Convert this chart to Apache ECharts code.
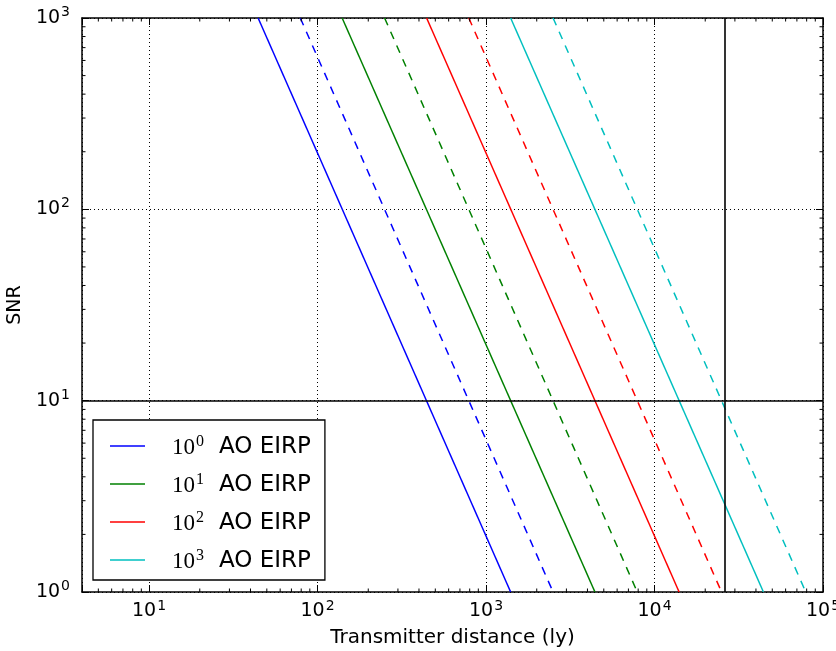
<!DOCTYPE html>
<html><head><meta charset="utf-8">
<script src="https://cdn.jsdelivr.net/npm/echarts@6/dist/echarts.min.js"></script>
<style>html,body{margin:0;padding:0;background:#fff}#c{width:836px;height:651px}</style>
</head><body><div id="c"></div>
<script>
// ---- data ----
const eirpExponents = ['0', '1', '2', '3'];
const legendNames = ['10^0 AO EIRP', '10^1 AO EIRP', '10^2 AO EIRP', '10^3 AO EIRP'];
const lineColors = ['#0000ff', '#008000', '#ff0000', '#00bfbf'];
const snrEnds = [1000, 1];                        // SNR at the two ends of every line
const solidDistances = [[44.4, 1400], [140, 4430], [444, 14000], [1400, 44300]];   // ly at SNR 1000, SNR 1
const dashedDistances = [[79, 2500], [250, 7900], [790, 25000], [2500, 79000]];   // ly at SNR 1000, SNR 1
const refSNR = 10;
const refDistance = 26000;
const xRange = [4, 100000];
const yRange = [1, 1000];
const xMinorTicks = [5, 6, 7, 8, 9, 20, 30, 40, 50, 60, 70, 80, 90, 200, 300, 400, 500, 600, 700, 800, 900,
  2000, 3000, 4000, 5000, 6000, 7000, 8000, 9000, 20000, 30000, 40000, 50000, 60000, 70000, 80000, 90000];
const yMinorTicks = [2, 3, 4, 5, 6, 7, 8, 9, 20, 30, 40, 50, 60, 70, 80, 90, 200, 300, 400, 500, 600, 700, 800, 900];

// ---- chart ----
const chart = echarts.init(document.getElementById('c'), null, {renderer: 'canvas'});
const SANS = 'DejaVu Sans';
const SERIF = 'Liberation Serif';

function powLabel(v) {
  const l = Math.log10(v);
  const e = Math.round(l);
  if (Math.abs(l - e) > 1e-6) return '';
  return '{b|10}{s|' + e + '}';
}
const tickRich = {
  b: {fontFamily: SANS, fontSize: 19, color: '#000', lineHeight: 19, verticalAlign: 'bottom'},
  s: {fontFamily: SANS, fontSize: 14, color: '#000', lineHeight: 14, verticalAlign: 'bottom', padding: [0, 0, 8, 1]}
};
const frameLine = {show: true, onZero: false, lineStyle: {color: '#000', width: 1.5}};
const majorTick = {show: true, inside: true, length: 7, lineStyle: {color: '#000', width: 1}};
const grid = {lineStyle: {color: '#000', width: 1, type: [1, 3]}};

const series = [];
solidDistances.forEach((d, i) => {
  series.push({
    name: legendNames[i], type: 'line', symbol: 'none', clip: true, z: 3,
    data: [[d[0], snrEnds[0]], [d[1], snrEnds[1]]],
    lineStyle: {color: lineColors[i], width: 1.5}, itemStyle: {color: lineColors[i]}
  });
});
dashedDistances.forEach((d, i) => {
  series.push({
    name: legendNames[i] + ' dashed', type: 'line', symbol: 'none', clip: true, z: 3,
    data: [[d[0], snrEnds[0]], [d[1], snrEnds[1]]],
    lineStyle: {color: lineColors[i], width: 1.5, type: [8, 7]}, itemStyle: {color: lineColors[i]}
  });
});
// reference lines
series.push({
  name: 'ref', type: 'line', data: [], symbol: 'none', z: 2,
  markLine: {
    silent: true, symbol: 'none', animation: false, label: {show: false},
    lineStyle: {color: '#000', width: 1.6, type: 'solid'},
    data: [{yAxis: refSNR}, {xAxis: refDistance}]
  }
});
// minor ticks
series.push({
  type: 'custom', silent: true, clip: false, z: 5,
  data: xMinorTicks.map(v => [v, yRange[0]]),
  renderItem: (p, api) => {
    const x = api.value(0);
    const b = api.coord([x, yRange[0]]), t = api.coord([x, yRange[1]]);
    return {type: 'group', children: [
      {type: 'line', shape: {x1: b[0], y1: b[1], x2: b[0], y2: b[1] - 3.5}, style: {stroke: '#000', lineWidth: 1}},
      {type: 'line', shape: {x1: t[0], y1: t[1], x2: t[0], y2: t[1] + 3.5}, style: {stroke: '#000', lineWidth: 1}}
    ]};
  }
});
series.push({
  type: 'custom', silent: true, clip: false, z: 5,
  data: yMinorTicks.map(v => [xRange[0], v]),
  renderItem: (p, api) => {
    const y = api.value(1);
    const l = api.coord([xRange[0], y]), r = api.coord([xRange[1], y]);
    return {type: 'group', children: [
      {type: 'line', shape: {x1: l[0], y1: l[1], x2: l[0] + 3.5, y2: l[1]}, style: {stroke: '#000', lineWidth: 1}},
      {type: 'line', shape: {x1: r[0], y1: r[1], x2: r[0] - 3.5, y2: r[1]}, style: {stroke: '#000', lineWidth: 1}}
    ]};
  }
});

chart.setOption({
  animation: false,
  backgroundColor: '#fff',
  grid: {left: 82, top: 18, right: 13, bottom: 59, containLabel: false, outerBoundsMode: 'none'},
  legend: {
    data: legendNames, orient: 'vertical', left: 93, top: 420,
    padding: [14, 14, 7, 17], itemGap: 13, itemWidth: 35, itemHeight: 1.6, icon: 'rect',
    borderColor: '#000', borderWidth: 1.3, backgroundColor: '#fff', selectedMode: false,
    formatter: name => {
      const i = legendNames.indexOf(name);
      return '{b|10}{s|' + eirpExponents[i] + '}{t|AO EIRP}';
    },
    textStyle: {
      rich: {
        b: {fontFamily: SERIF, fontSize: 23, color: '#000', lineHeight: 23, verticalAlign: 'bottom', padding: [0, 0, 0, 22]},
        s: {fontFamily: SERIF, fontSize: 16, color: '#000', lineHeight: 16, verticalAlign: 'bottom', padding: [0, 15, 9, 1]},
        t: {fontFamily: SANS, fontSize: 23, color: '#000', lineHeight: 26, verticalAlign: 'bottom'}
      }
    }
  },
  xAxis: [{
    type: 'log', logBase: 10, min: xRange[0], max: xRange[1], position: 'bottom',
    axisLine: frameLine, axisTick: majorTick,
    axisLabel: {formatter: powLabel, margin: 10, rich: tickRich, showMinLabel: true, showMaxLabel: true},
    splitLine: Object.assign({show: true}, grid),
    name: 'Transmitter distance (ly)', nameLocation: 'middle', nameGap: 36,
    nameTextStyle: {fontFamily: SANS, fontSize: 20, color: '#000'}
  }, {
    type: 'log', logBase: 10, min: xRange[0], max: xRange[1], position: 'top',
    axisLine: frameLine, axisTick: majorTick, axisLabel: {show: false}, splitLine: {show: false}
  }],
  yAxis: [{
    type: 'log', logBase: 10, min: yRange[0], max: yRange[1], position: 'left',
    axisLine: frameLine, axisTick: majorTick,
    axisLabel: {formatter: powLabel, margin: 12, rich: tickRich, showMinLabel: true, showMaxLabel: true},
    splitLine: Object.assign({show: true}, grid),
    name: 'SNR', nameLocation: 'middle', nameGap: 47,
    nameTextStyle: {fontFamily: SANS, fontSize: 19, color: '#000'}
  }, {
    type: 'log', logBase: 10, min: yRange[0], max: yRange[1], position: 'right',
    axisLine: frameLine, axisTick: majorTick, axisLabel: {show: false}, splitLine: {show: false}
  }],
  series: series
});
</script></body></html>
